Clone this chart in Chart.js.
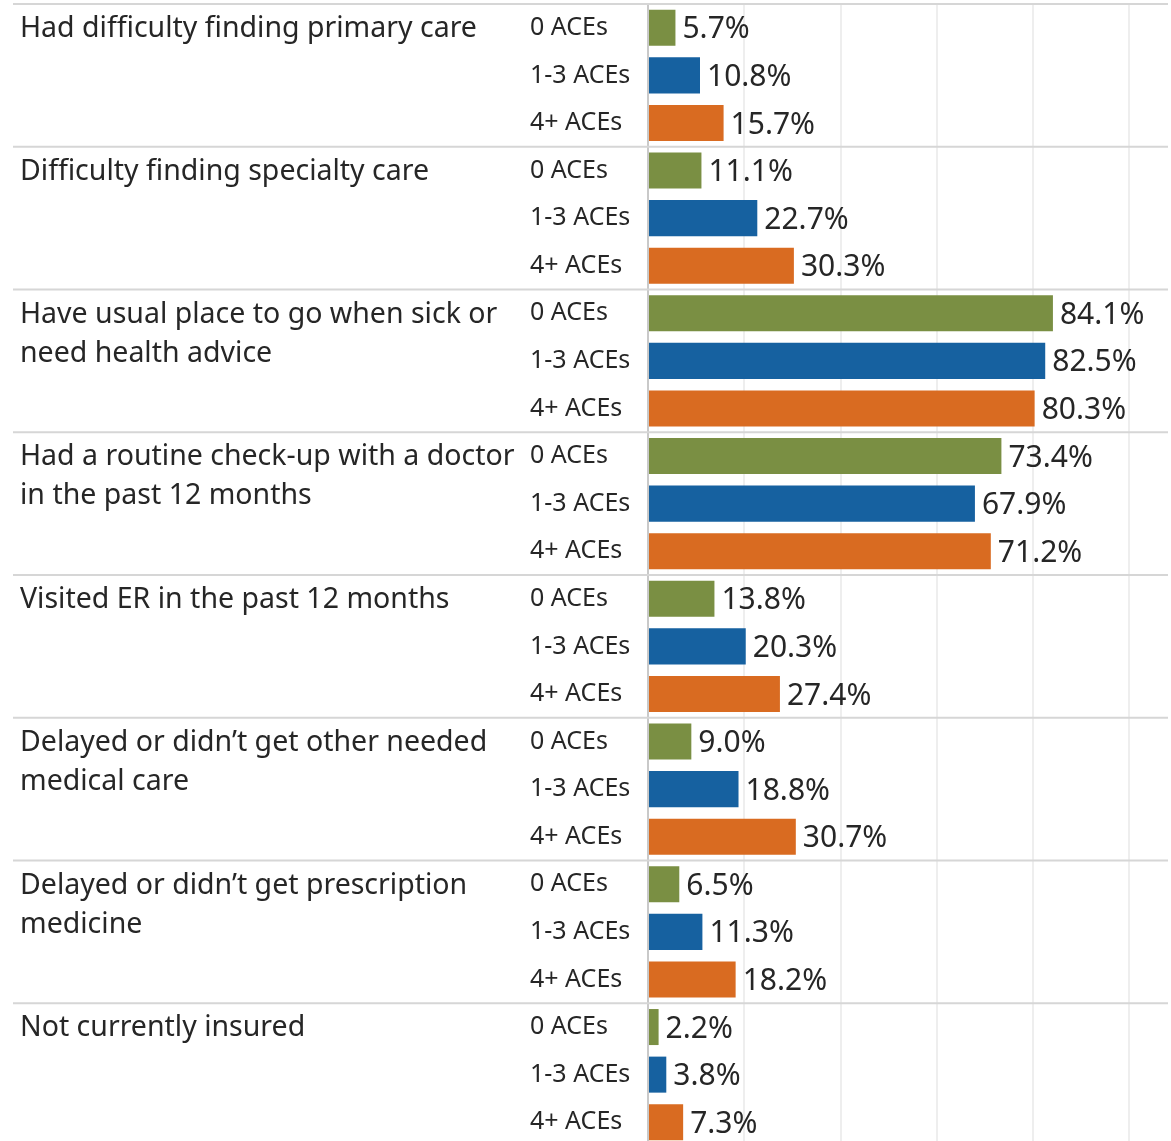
<!DOCTYPE html>
<html>
<head>
<meta charset="utf-8">
<script src="https://cdn.jsdelivr.net/npm/chart.js@4"></script>
<style>
  html, body { margin: 0; padding: 0; background: #fff; overflow: hidden; }
  #wrap { width: 1171px; height: 1146px; }
</style>
</head>
<body>
<div id="wrap"><canvas id="c" width="1171" height="1146"></canvas></div>
<script>
const groups = [
  ["Had difficulty finding primary care"],
  ["Difficulty finding specialty care"],
  ["Have usual place to go when sick or", "need health advice"],
  ["Had a routine check-up with a doctor", "in the past 12 months"],
  ["Visited ER in the past 12 months"],
  ["Delayed or didn\u2019t get other needed", "medical care"],
  ["Delayed or didn\u2019t get prescription", "medicine"],
  ["Not currently insured"]
];
const aceLevels = ["0 ACEs", "1-3 ACEs", "4+ ACEs"];
const aces0   = [5.7, 11.1, 84.1, 73.4, 13.8, 9.0, 6.5, 2.2];
const aces1to3 = [10.8, 22.7, 82.5, 67.9, 20.3, 18.8, 11.3, 3.8];
const aces4plus = [15.7, 30.3, 80.3, 71.2, 27.4, 30.7, 18.2, 7.3];
const levelColors = ["#7a8f43", "#1661a0", "#d96b21"];

const series = [aces0, aces1to3, aces4plus];
const labels = [], values = [], colors = [];
groups.forEach((g, gi) => {
  aceLevels.forEach((lvl, li) => {
    labels.push(lvl);
    values.push(series[li][gi]);
    colors.push(levelColors[li]);
  });
});

const FONT = "'Noto Sans', 'Open Sans', sans-serif";
const TEXT = "#262626";

const decorPlugin = {
  id: 'decor',
  beforeDatasetsDraw(chart) {
    const ctx = chart.ctx;
    const y = chart.scales.y;
    const area = chart.chartArea;
    const rowH = (area.bottom - area.top) / labels.length;
    ctx.save();
    ctx.strokeStyle = "#d6d6d6";
    ctx.lineWidth = 2;
    for (let gi = 0; gi < groups.length; gi++) {
      const yy = y.getPixelForValue(gi * 3) - rowH / 2;
      ctx.beginPath();
      ctx.moveTo(13, yy);
      ctx.lineTo(area.right, yy);
      ctx.stroke();
    }
    ctx.fillStyle = TEXT;
    ctx.font = "28.5px " + FONT;
    ctx.textAlign = "left";
    ctx.textBaseline = "middle";
    groups.forEach((g, gi) => {
      const top = y.getPixelForValue(gi * 3) - rowH / 2;
      g.forEach((line, li) => {
        ctx.fillText(line, 20, top + 25 + li * 39);
      });
    });
    ctx.restore();
  },
  afterDatasetsDraw(chart) {
    const ctx = chart.ctx;
    const meta = chart.getDatasetMeta(0);
    ctx.save();
    ctx.fillStyle = TEXT;
    ctx.font = "30px " + FONT;
    ctx.textAlign = "left";
    ctx.textBaseline = "middle";
    meta.data.forEach((bar, i) => {
      ctx.fillText(values[i].toFixed(1) + "%", bar.x + 7, bar.y + 2);
    });
    ctx.restore();
  }
};

new Chart(document.getElementById('c'), {
  type: 'bar',
  data: {
    labels: labels,
    datasets: [{
      data: values,
      backgroundColor: colors,
      borderWidth: 0,
      categoryPercentage: 1.0,
      barPercentage: 0.757
    }]
  },
  options: {
    indexAxis: 'y',
    responsive: false,
    animation: false,
    layout: { padding: { left: 530, top: 4, right: 3, bottom: 0 } },
    plugins: { legend: { display: false }, tooltip: { enabled: false } },
    scales: {
      x: {
        min: 0, max: 108,
        ticks: { display: false, stepSize: 20 },
        border: { display: false },
        grid: {
          drawTicks: false,
          lineWidth: 2,
          color: (c) => (c.tick && c.tick.value > 0 && c.tick.value % 20 === 0) ? "#eeeeee" : "rgba(0,0,0,0)"
        }
      },
      y: {
        afterFit: (s) => { s.width = 118; s.paddingTop = 0; s.paddingBottom = 0; },
        border: { display: true, color: "#c9c9c9", width: 2 },
        grid: { display: false },
        ticks: {
          autoSkip: false,
          crossAlign: 'far',
          color: TEXT,
          font: { family: FONT, size: 25 }
        }
      }
    }
  },
  plugins: [decorPlugin]
});
</script>
</body>
</html>
